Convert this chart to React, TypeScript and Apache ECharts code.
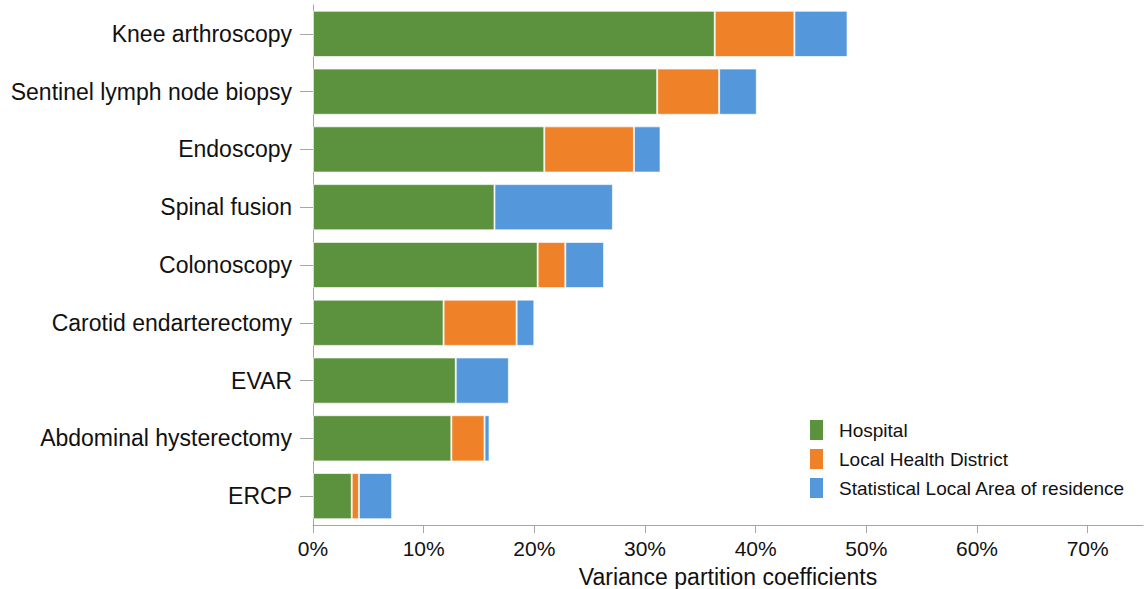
import React, { useEffect, useRef } from "react";
import * as echarts from "echarts";

const categories = [
  "Knee arthroscopy",
  "Sentinel lymph node biopsy",
  "Endoscopy",
  "Spinal fusion",
  "Colonoscopy",
  "Carotid endarterectomy",
  "EVAR",
  "Abdominal hysterectomy",
  "ERCP",
];
const hospital = [36.3, 31.1, 20.9, 16.4, 20.3, 11.8, 12.9, 12.5, 3.5];
const localHealthDistrict = [7.2, 5.6, 8.1, 0, 2.5, 6.6, 0, 3.0, 0.65];
const statisticalLocalArea = [4.8, 3.4, 2.4, 10.7, 3.5, 1.6, 4.8, 0.45, 3.0];
const seriesNames = ["Hospital", "Local Health District", "Statistical Local Area of residence"];
const xTicks = [0, 10, 20, 30, 40, 50, 60, 70];

const FONT = "'Liberation Sans', Arial, sans-serif";
const colors = ["#5c913e", "#ef8229", "#5497db"];

export default function App() {
  const ref = useRef<HTMLDivElement>(null);
  useEffect(() => {
    document.body.style.margin = "0";
    if (!ref.current) return;
    const chart = echarts.init(ref.current, undefined, { renderer: "svg" });
    const data = [hospital, localHealthDistrict, statisticalLocalArea];
    chart.setOption({
      animation: false,
      textStyle: { fontFamily: FONT },
      grid: {
        left: 313,
        right: 4,
        top: 5,
        bottom: 64,
        containLabel: false,
        outerBoundsMode: "none",
      },
      legend: {
        orient: "vertical",
        left: 805,
        top: 415,
        itemWidth: 13,
        itemHeight: 20,
        itemGap: 9,
        icon: "rect",
        itemStyle: { borderWidth: 0 },
        textStyle: { fontSize: 19, color: "#111", fontFamily: FONT, padding: [0, 0, 0, 11] },
        data: seriesNames,
      },
      xAxis: {
        type: "value",
        min: 0,
        max: 75,
        interval: 10,
        name: "Variance partition coefficients",
        nameLocation: "middle",
        nameGap: 40,
        nameTextStyle: { fontSize: 23, color: "#111", fontFamily: FONT },
        axisLine: { show: true, lineStyle: { color: "#a6a6a6", width: 1 } },
        axisTick: { show: true, length: 8, lineStyle: { color: "#a6a6a6" }, customValues: xTicks },
        axisLabel: {
          fontSize: 21,
          color: "#111",
          margin: 13,
          fontFamily: FONT,
          customValues: xTicks,
          formatter: (v: number) => `${v}%`,
        },
        splitLine: { show: false },
      },
      yAxis: {
        type: "category",
        inverse: true,
        data: categories,
        axisLine: { show: true, lineStyle: { color: "#a6a6a6", width: 1 } },
        axisTick: { show: true, length: 13, alignWithLabel: true, lineStyle: { color: "#a6a6a6" } },
        axisLabel: { fontSize: 23, color: "#111", margin: 21, fontFamily: FONT },
      },
      series: seriesNames.map((name, i) => ({
        name,
        type: "bar",
        stack: "total",
        barCategoryGap: "20%",
        data: data[i],
        itemStyle: {
          color: colors[i],
          borderColor: "rgba(255,255,255,0.65)",
          borderWidth: 1,
        },
      })),
    });
    return () => chart.dispose();
  }, []);
  return (
    <div
      ref={ref}
      style={{ position: "absolute", left: 0, top: 0, width: 1147, height: 589 }}
    />
  );
}
